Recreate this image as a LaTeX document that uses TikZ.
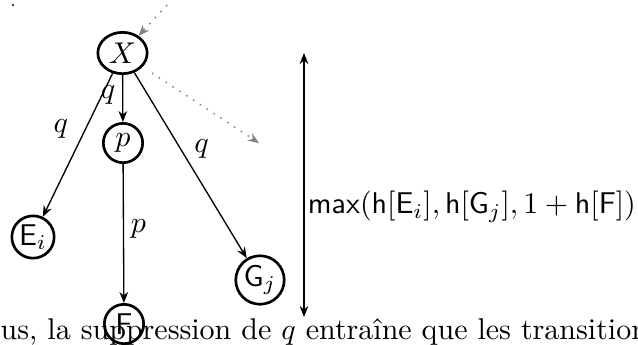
\documentclass[tikz,border=0pt]{standalone}
\usepackage{graphicx}
\usetikzlibrary{arrows.meta,shapes.geometric}
\newcommand{\shr}[1]{\scalebox{0.9}{#1}}
\begin{document}
\begin{tikzpicture}[x=0.3pt,y=-0.3pt,
  gfont/.style={font=\fontsize{10}{12}\selectfont},
  state/.style={circle,draw,line width=0.8pt,minimum size=11.8pt,inner sep=0.5pt,gfont},
  estate/.style={ellipse,draw,line width=0.8pt,minimum width=14.8pt,minimum height=12.4pt,inner sep=0.5pt,gfont},
  tr/.style={line width=0.4pt,-{Stealth[length=3.3pt,width=2.6pt]}},
  dtr/.style={gray,dotted,line width=0.45pt,-{Stealth[length=3.3pt,width=2.6pt]}},
  lab/.style={gfont,inner sep=1pt},
]
\useasboundingbox (0,0) rectangle (638,344);
\clip (0,0) rectangle (638,344);
\fill (13,5) circle (0.32pt);
\node[estate] (X) at (122.5,53) {\shr{$X$}};
\node[state] (p) at (123,143) {\shr{$p$}};
\node[state] (E) at (33,237) {\shr{$\mathsf{E}_i$}};
\node[state] (G) at (260,280) {\shr{$\mathsf{G}_j$}};
\node[state] (F) at (124,324) {\shr{$\mathsf{F}$}};
\coordinate (in0) at (167,5);
\coordinate (out1) at (152,73);
\coordinate (out2) at (259,143);
\coordinate (htop) at (304,53);
\coordinate (hbot) at (304,317);
\draw[tr] (X) -- node[lab,pos=0.43,left=1pt] {\shr{$q$}} (p);
\draw[tr] (X) -- node[lab,pos=0.39,left=4pt] {\shr{$q$}} (E);
\draw[tr] (X) -- node[lab,pos=0.41,right=3pt] {\shr{$q$}} (G);
\draw[tr] (p) -- node[lab,pos=0.47,right=1pt] {\shr{$p$}} (F);
\draw[dtr] (in0) -- (X);
\draw[dtr] (out1) -- (out2);
\draw[line width=0.4pt,{Stealth[length=3.3pt,width=2.6pt]}-{Stealth[length=3.3pt,width=2.6pt]}] (htop) -- node[lab,pos=0.583,right=0pt,anchor=west] {\shr{$\mathsf{max}(\mathsf{h}[\mathsf{E}_i],\mathsf{h}[\mathsf{G}_j],1+\mathsf{h}[\mathsf{F}])$}} (hbot);
\node[anchor=base west,inner sep=0pt,font=\fontsize{10}{12}\selectfont] (txt) at (0,339) {\shr{us, la suppression de $q$ entra\^ine que les transitions}};
\end{tikzpicture}
\end{document}
